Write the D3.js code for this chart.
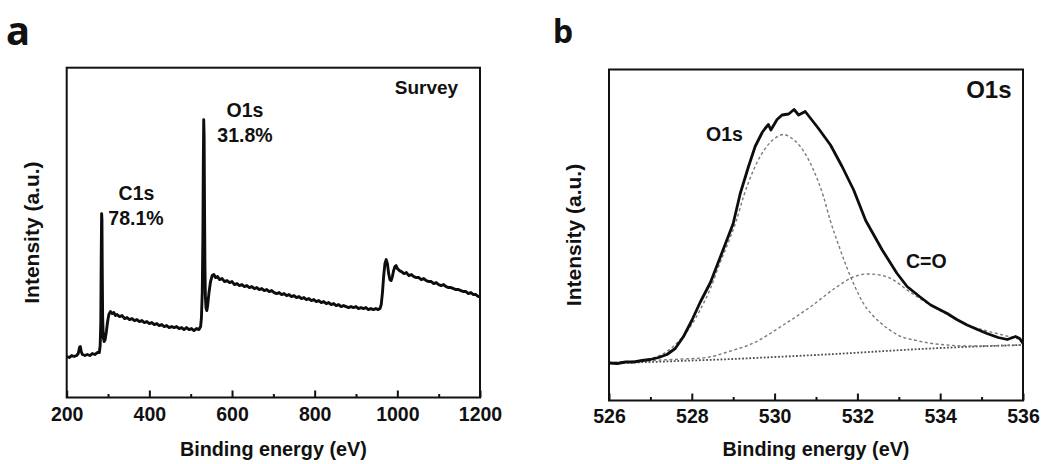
<!DOCTYPE html>
<html lang="en">
<head>
  <meta charset="UTF-8">
  <style>
    body { margin: 0; background: #fff; }
    text { font-family: "Liberation Sans", Arial, sans-serif; font-weight: bold; fill: #111; }
    .panel-letter { font-family: "Noto Sans", "Open Sans", sans-serif; }
  </style>
</head>
<body>
  <svg id="chart" width="1043" height="464"></svg>

  <script src="https://d3js.org/d3.v7.min.js"></script>
  <script>
    // ---- panel a : survey spectrum, [binding energy (eV), intensity (a.u.)] ----
    const surveyPoints = [
      [200,41],[206,40],[212,42],[218,41],[224,42],[228,44],[231,50],[233,51],[235,46],[238,43],
      [244,42],[250,43],[256,42],[262,44],[268,43],[274,45],[279,45],[281,52],[282.5,75],[283.5,140],
      [284.5,184],[285.3,178],[286,130],[287,80],[288.5,60],[290.5,56],[293,58],[296,66],[299,76],[302,83],
      [306,86],[310,84],[314,85],[318,82],[322,83],[328,81],[334,82],[340,79],[346,80],[352,78],
      [358,79],[364,77],[370,78],[376,76],[382,77],[388,75],[394,76],[400,74],[406,75],[412,73],
      [418,74],[424,72],[430,73],[436,71],[442,72],[448,70],[454,71],[460,70],[466,71],[472,69],
      [478,70],[484,68],[490,70],[496,68],[502,69],[508,67],[514,69],[520,68],[524,71],[526,80],
      [528,105],[529.5,160],[530.5,230],[531.5,278],[532.5,262],[533.5,190],[534.5,130],[535.5,102],[537,90],[539,87],
      [541,92],[544,104],[548,116],[552,122],[556,123],[560,120],[565,121],[570,118],[576,119],[582,116],
      [588,117],[594,115],[600,116],[606,113],[612,114],[618,112],[624,113],[630,111],[636,112],[642,110],
      [648,111],[654,109],[660,110],[666,108],[672,109],[678,107],[684,108],[690,106],[696,107],[702,105],
      [708,104],[714,105],[720,103],[726,104],[732,102],[738,103],[744,101],[750,102],[756,100],[762,101],
      [768,99],[774,100],[780,98],[786,99],[792,97],[798,98],[804,96],[810,97],[816,95],[822,96],
      [828,94],[834,95],[840,93],[846,94],[852,92],[858,93],[864,91],[870,92],[876,91],[882,90],
      [888,91],[894,90],[900,91],[906,89],[912,90],[918,89],[924,90],[930,88],[936,89],[942,88],
      [948,89],[954,88],[958,89],[961,93],[964,105],[967,122],[970,134],[973,138],[976,134],[979,124],
      [982,118],[985,117],[988,121],[991,127],[994,131],[997,132],[1000,129],[1005,127],[1010,126],[1016,124],
      [1022,125],[1028,122],[1034,123],[1040,121],[1046,120],[1052,120],[1058,118],[1064,119],[1070,117],[1076,116],
      [1082,116],[1088,114],[1094,115],[1100,113],[1106,112],[1112,113],[1118,111],[1124,110],[1130,110],[1136,109],
      [1142,108],[1148,108],[1154,107],[1160,106],[1166,106],[1172,104],[1178,105],[1184,103],[1190,103],[1196,101],
      [1200,101]
    ]
    const surveyMajorTicks = [200, 400, 600, 800, 1000, 1200]
    const surveyMinorTicks = [300, 500, 700, 900, 1100]

    // ---- panel b : O1s high resolution, [binding energy (eV), intensity (a.u.)] ----
    const o1sEnvelope = [
      [526.0,37.5],[526.2,37],[526.4,38.5],[526.6,38.5],[526.8,40],[527.0,41],[527.2,43],[527.4,46],[527.6,52],[527.8,64],
      [528.0,80],[528.2,98],[528.45,118],[528.75,150],[529.0,177],[529.17,207],[529.37,234],[529.53,254],[529.7,268],[529.77,272],
      [529.85,276],[529.91,270.5],[530.06,281],[530.18,285.5],[530.34,286.5],[530.47,291],[530.58,285.5],[530.74,289],[530.9,280.5],[531.06,272],
      [531.35,255.5],[531.63,234],[531.91,210.5],[532.2,180],[532.6,150.5],[532.95,127.5],[533.2,114],[533.5,104],[533.77,95.5],[534.17,87],
      [534.4,81],[534.65,75.5],[534.9,71],[535.13,67],[535.4,63],[535.62,61],[535.82,64],[535.92,62],[536.0,57]
    ]
    const o1sComponent = [
      [526.0,37.5],[526.5,38.5],[527.07,42.5],[527.4,49],[527.71,60.5],[528.0,76],[528.2,90.5],[528.45,112],[528.68,137.5],[528.9,160],
      [529.08,180.5],[529.25,204],[529.49,230.5],[529.81,254],[530.0,262],[530.22,266],[530.42,262],[530.62,254],[530.94,230.5],[531.18,204],
      [531.34,180.5],[531.55,155],[531.74,133.5],[531.95,113],[532.14,97.5],[532.35,86],[532.55,78],[532.8,70],[533.05,64],[533.37,60.5],
      [533.8,57],[534.17,55.5],[534.6,54.5],[535.0,54.5],[535.5,55],[536.0,55.5]
    ]
    const coComponent = [
      [526.0,38],[527.0,40],[527.8,41.5],[528.36,43],[528.9,49],[529.49,57.5],[530.21,75.5],[530.86,93.5],[531.5,113.5],[531.9,123.5],
      [532.22,126.5],[532.55,125.5],[532.85,121],[533.2,110.5],[533.76,95.5],[534.17,86],[534.57,77],[535.0,71],[535.37,67],[535.7,63.5],
      [536.0,60.5]
    ]
    const o1sBaseline = [
      [526,37.5],[527,38.5],[528,40],[529,41.5],[530,43.5],[531,45.5],[532,47.8],[533,50.3],[534,52.5],[535,54.2],[536,55.5]
    ]
    const o1sMajorTicks = [526, 528, 530, 532, 534, 536]
    const o1sMinorTicks = [527, 529, 531, 533, 535]

    const svg = d3.select('#chart')
    svg.append('rect').attr('width', 1043).attr('height', 464).attr('fill', '#fff')

    // draws the box, inward ticks, tick labels and axis titles for one panel
    function drawFrame(x, y, majors, minors, labelPad) {
      const [x0, x1] = x.range()
      const [y0, y1] = y.range()

      const majorAxis = d3.axisBottom(x)
        .tickValues(majors)
        .tickSize(-7)
        .tickPadding(labelPad)
        .tickFormat(d3.format('d'))
      const gMajor = svg.append('g')
        .attr('transform', `translate(0, ${y0})`)
        .call(majorAxis)
      gMajor.select('.domain').remove()
      gMajor.selectAll('.tick line').attr('stroke', '#111').attr('stroke-width', 2)
      gMajor.selectAll('.tick text')
        .attr('fill', '#111')
        .style('font-size', '19.5px')

      const minorAxis = d3.axisBottom(x)
        .tickValues(minors)
        .tickSize(-3.5)
        .tickFormat('')
      const gMinor = svg.append('g')
        .attr('transform', `translate(0, ${y0})`)
        .call(minorAxis)
      gMinor.select('.domain').remove()
      gMinor.selectAll('.tick line').attr('stroke', '#111').attr('stroke-width', 2)

      svg.append('rect')
        .attr('x', x0)
        .attr('y', y1)
        .attr('width', x1 - x0)
        .attr('height', y0 - y1)
        .attr('fill', 'none')
        .attr('stroke', '#111')
        .attr('stroke-width', 2)

      svg.append('text')
        .attr('x', (x0 + x1) / 2)
        .attr('y', 455.5)
        .attr('text-anchor', 'middle')
        .style('font-size', '19.8px')
        .text('Binding energy (eV)')

      svg.append('text')
        .attr('transform', `translate(${x0 - 35}, ${(y0 + y1) / 2}) rotate(-90)`)
        .attr('dy', '0.35em')
        .attr('text-anchor', 'middle')
        .style('font-size', '21px')
        .text('Intensity (a.u.)')
    }

    function addText(txt, px, py, size, anchor) {
      svg.append('text')
        .attr('x', px)
        .attr('y', py)
        .attr('text-anchor', anchor || 'middle')
        .style('font-size', size + 'px')
        .text(txt)
    }

    // ---------- panel a ----------
    const xa = d3.scaleLinear().domain([200, 1200]).range([66.7, 480])
    const ya = d3.scaleLinear().domain([0, 330]).range([397.5, 67.7])

    svg.append('path')
      .datum(surveyPoints)
      .attr('fill', 'none')
      .attr('stroke', '#0d0d0d')
      .attr('stroke-width', 2.9)
      .attr('stroke-linejoin', 'round')
      .attr('d', d3.line().x(d => xa(d[0])).y(d => ya(d[1])))

    drawFrame(xa, ya, surveyMajorTicks, surveyMinorTicks, 10)

    addText('Survey', 426.5, 94.3, 19)
    addText('O1s', 245, 117.3, 19.5)
    addText('31.8%', 245, 141.7, 19.5)
    addText('C1s', 136.5, 200, 19.5)
    addText('78.1%', 136, 225, 19.5)

    svg.append('text')
      .attr('class', 'panel-letter')
      .attr('x', 6)
      .attr('y', 45)
      .style('font-size', '40px')
      .text('a')

    // ---------- panel b ----------
    const xb = d3.scaleLinear().domain([526, 536]).range([609, 1023])
    const yb = d3.scaleLinear().domain([0, 331]).range([400.5, 69.5])

    const lineB = d3.line()
      .x(d => xb(d[0]))
      .y(d => yb(d[1]))
    const smoothB = d3.line()
      .x(d => xb(d[0]))
      .y(d => yb(d[1]))
      .curve(d3.curveMonotoneX)

    svg.append('path')
      .datum(o1sBaseline)
      .attr('fill', 'none')
      .attr('stroke', '#4d4d4d')
      .attr('stroke-width', 1.8)
      .attr('stroke-dasharray', '1.8,1.8')
      .attr('d', smoothB)

    svg.append('path')
      .datum(coComponent)
      .attr('fill', 'none')
      .attr('stroke', '#7a7a7a')
      .attr('stroke-width', 1.4)
      .attr('stroke-dasharray', '3,2.5')
      .attr('d', smoothB)

    svg.append('path')
      .datum(o1sComponent)
      .attr('fill', 'none')
      .attr('stroke', '#7a7a7a')
      .attr('stroke-width', 1.4)
      .attr('stroke-dasharray', '3,2.5')
      .attr('d', smoothB)

    svg.append('path')
      .datum(o1sEnvelope)
      .attr('fill', 'none')
      .attr('stroke', '#0d0d0d')
      .attr('stroke-width', 2.8)
      .attr('stroke-linejoin', 'round')
      .attr('d', lineB)

    drawFrame(xb, yb, o1sMajorTicks, o1sMinorTicks, 9)

    addText('O1s', 1011.5, 98.3, 24, 'end')
    addText('O1s', 706, 140.7, 19.5, 'start')
    addText('C=O', 906, 268, 19.5, 'start')

    svg.append('text')
      .attr('class', 'panel-letter')
      .attr('x', 553)
      .attr('y', 43)
      .style('font-size', '32px')
      .text('b')
  </script>
</body>
</html>
